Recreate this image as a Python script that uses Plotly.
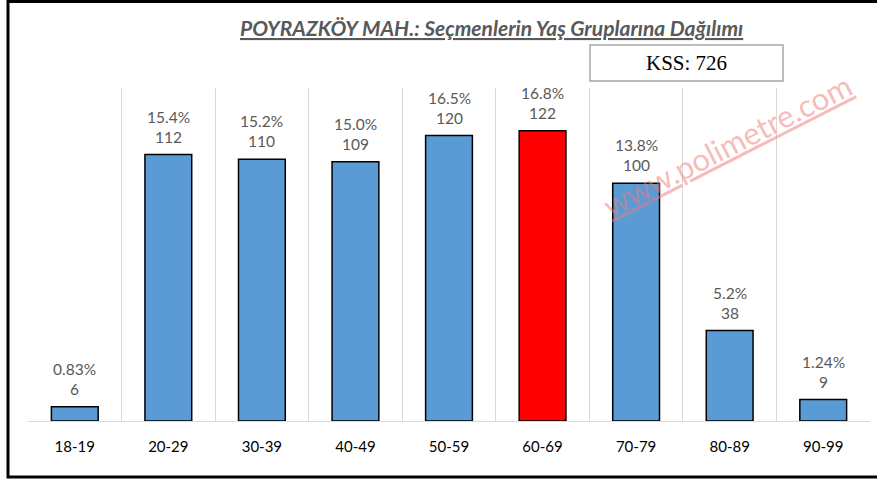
import plotly.graph_objects as go

categories = ["18-19", "20-29", "30-39", "40-49", "50-59", "60-69", "70-79", "80-89", "90-99"]
counts = [6, 112, 110, 109, 120, 122, 100, 38, 9]
percents = ["0.83%", "15.4%", "15.2%", "15.0%", "16.5%", "16.8%", "13.8%", "5.2%", "1.24%"]
highlight = "60-69"
title_text = "POYRAZKÖY MAH.: Seçmenlerin Yaş Gruplarına Dağılımı"
kss_text = "KSS: 726"
watermark = "www.polimetre.com"

W, H = 877, 481
L, R, T, B = 28, 7, 88, 60
pw, ph = W - L - R, H - T - B

def px(x):
    return (x - L) / pw

def py(y):
    return (H - B - y) / ph

FONT = "Lato, Open Sans, sans-serif"
colors = ["#ff0000" if c == highlight else "#5b9bd5" for c in categories]
labels = [f"{p}<br>{c}" for p, c in zip(percents, counts)]

fig = go.Figure(go.Bar(
    x=categories, y=counts, marker=dict(color=colors, line=dict(color="#000000", width=1.5)),
    hoverinfo="skip",
))

label_annots = [
    dict(x=c, y=v, xref="x", yref="y", text=t, showarrow=False, xanchor="center",
         yanchor="bottom", yshift=7, font=dict(family=FONT, size=15.5, color="#595959"))
    for c, v, t in zip(categories, counts, labels)
]

fig.update_layout(
    width=W, height=H, margin=dict(l=L, r=R, t=T, b=B),
    plot_bgcolor="white", paper_bgcolor="white", bargap=0.5, showlegend=False,
    xaxis=dict(showgrid=True, gridcolor="#d9d9d9", gridwidth=1, tickson="boundaries",
               showline=True, linecolor="#d9d9d9", linewidth=1, ticks="",
               tickfont=dict(family=FONT, size=15, color="#000000"),
               ticklabelstandoff=12),
    yaxis=dict(range=[0, 140], visible=False, showgrid=False),
    annotations=label_annots + [
        dict(text=title_text, xref="paper", yref="paper", x=px(492), y=py(27), showarrow=False,
             xanchor="center", yanchor="middle",
             font=dict(family="Lato, Noto Sans, sans-serif", size=21, color="#595959",
                       style="italic", weight=700, lineposition="under")),
        dict(text=kss_text, xref="paper", yref="paper", x=px(686), y=py(63), showarrow=False,
             xanchor="center", yanchor="middle",
             font=dict(family="Liberation Serif, Times New Roman, serif", size=21, color="#000000")),
        dict(text=watermark, xref="paper", yref="paper", x=px(727), y=py(145), showarrow=False,
             xanchor="center", yanchor="middle", textangle=-27,
             font=dict(family=FONT, size=31, color="rgba(240,120,120,0.5)",
                       lineposition="under")),
    ],
    shapes=[
        dict(type="rect", xref="paper", yref="paper", x0=px(590), x1=px(783), y0=py(81), y1=py(45),
             line=dict(color="#a6a6a6", width=1.5), fillcolor="rgba(0,0,0,0)"),
        dict(type="rect", xref="paper", yref="paper", x0=px(8), x1=px(885), y0=py(477), y1=py(1.5),
             line=dict(color="#000000", width=3), fillcolor="rgba(0,0,0,0)"),
    ],
)

fig.write_html("out.html", config={"displayModeBar": False},
               post_script="document.body.style.margin='0px';")
